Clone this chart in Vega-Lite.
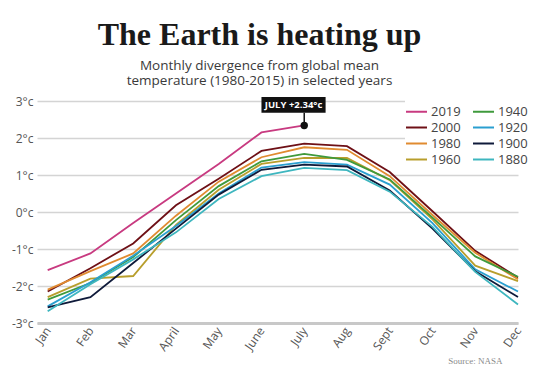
{
  "$schema": "https://vega.github.io/schema/vega-lite/v6.json",
  "width": 481,
  "height": 222,
  "autosize": "none",
  "padding": {"left": 37, "top": 101, "right": 23, "bottom": 60},
  "background": "white",
  "title": {
    "text": "The Earth is heating up",
    "subtitle": ["Monthly divergence from global mean", "temperature (1980-2015) in selected years"],
    "anchor": "middle",
    "dx": -18,
    "offset": 7,
    "font": "Liberation Serif",
    "fontSize": 32,
    "fontWeight": "bold",
    "color": "#1a1a1a",
    "subtitleFont": "Open Sans",
    "subtitleFontSize": 13.5,
    "subtitleColor": "#3a3a3a",
    "subtitleLineHeight": 15,
    "subtitlePadding": 7
  },
  "config": {
    "view": {"stroke": null},
    "font": "Open Sans"
  },
  "datasets": {
    "temps": [
      {"year": "2019", "m": 1, "v": -1.57}, {"year": "2019", "m": 2, "v": -1.12}, {"year": "2019", "m": 3, "v": -0.3}, {"year": "2019", "m": 4, "v": 0.5}, {"year": "2019", "m": 5, "v": 1.3}, {"year": "2019", "m": 6, "v": 2.15}, {"year": "2019", "m": 7, "v": 2.34},
      {"year": "2000", "m": 1, "v": -2.15}, {"year": "2000", "m": 2, "v": -1.52}, {"year": "2000", "m": 3, "v": -0.85}, {"year": "2000", "m": 4, "v": 0.18}, {"year": "2000", "m": 5, "v": 0.9}, {"year": "2000", "m": 6, "v": 1.65}, {"year": "2000", "m": 7, "v": 1.85}, {"year": "2000", "m": 8, "v": 1.78}, {"year": "2000", "m": 9, "v": 1.08}, {"year": "2000", "m": 10, "v": 0.02}, {"year": "2000", "m": 11, "v": -1.05}, {"year": "2000", "m": 12, "v": -1.77},
      {"year": "1980", "m": 1, "v": -2.1}, {"year": "1980", "m": 2, "v": -1.6}, {"year": "1980", "m": 3, "v": -1.12}, {"year": "1980", "m": 4, "v": -0.1}, {"year": "1980", "m": 5, "v": 0.82}, {"year": "1980", "m": 6, "v": 1.48}, {"year": "1980", "m": 7, "v": 1.75}, {"year": "1980", "m": 8, "v": 1.68}, {"year": "1980", "m": 9, "v": 0.97}, {"year": "1980", "m": 10, "v": -0.08}, {"year": "1980", "m": 11, "v": -1.1}, {"year": "1980", "m": 12, "v": -1.82},
      {"year": "1960", "m": 1, "v": -2.3}, {"year": "1960", "m": 2, "v": -1.8}, {"year": "1960", "m": 3, "v": -1.73}, {"year": "1960", "m": 4, "v": -0.35}, {"year": "1960", "m": 5, "v": 0.6}, {"year": "1960", "m": 6, "v": 1.3}, {"year": "1960", "m": 7, "v": 1.46}, {"year": "1960", "m": 8, "v": 1.46}, {"year": "1960", "m": 9, "v": 0.86}, {"year": "1960", "m": 10, "v": -0.2}, {"year": "1960", "m": 11, "v": -1.45}, {"year": "1960", "m": 12, "v": -1.87},
      {"year": "1940", "m": 1, "v": -2.37}, {"year": "1940", "m": 2, "v": -1.92}, {"year": "1940", "m": 3, "v": -1.22}, {"year": "1940", "m": 4, "v": -0.22}, {"year": "1940", "m": 5, "v": 0.7}, {"year": "1940", "m": 6, "v": 1.37}, {"year": "1940", "m": 7, "v": 1.57}, {"year": "1940", "m": 8, "v": 1.41}, {"year": "1940", "m": 9, "v": 0.88}, {"year": "1940", "m": 10, "v": -0.15}, {"year": "1940", "m": 11, "v": -1.2}, {"year": "1940", "m": 12, "v": -1.75},
      {"year": "1920", "m": 1, "v": -2.55}, {"year": "1920", "m": 2, "v": -1.9}, {"year": "1920", "m": 3, "v": -1.18}, {"year": "1920", "m": 4, "v": -0.38}, {"year": "1920", "m": 5, "v": 0.5}, {"year": "1920", "m": 6, "v": 1.2}, {"year": "1920", "m": 7, "v": 1.35}, {"year": "1920", "m": 8, "v": 1.28}, {"year": "1920", "m": 9, "v": 0.74}, {"year": "1920", "m": 10, "v": -0.3}, {"year": "1920", "m": 11, "v": -1.55}, {"year": "1920", "m": 12, "v": -2.15},
      {"year": "1900", "m": 1, "v": -2.58}, {"year": "1900", "m": 2, "v": -2.3}, {"year": "1900", "m": 3, "v": -1.38}, {"year": "1900", "m": 4, "v": -0.45}, {"year": "1900", "m": 5, "v": 0.47}, {"year": "1900", "m": 6, "v": 1.14}, {"year": "1900", "m": 7, "v": 1.28}, {"year": "1900", "m": 8, "v": 1.23}, {"year": "1900", "m": 9, "v": 0.58}, {"year": "1900", "m": 10, "v": -0.45}, {"year": "1900", "m": 11, "v": -1.6}, {"year": "1900", "m": 12, "v": -2.3},
      {"year": "1880", "m": 1, "v": -2.68}, {"year": "1880", "m": 2, "v": -1.95}, {"year": "1880", "m": 3, "v": -1.28}, {"year": "1880", "m": 4, "v": -0.55}, {"year": "1880", "m": 5, "v": 0.35}, {"year": "1880", "m": 6, "v": 0.97}, {"year": "1880", "m": 7, "v": 1.19}, {"year": "1880", "m": 8, "v": 1.13}, {"year": "1880", "m": 9, "v": 0.55}, {"year": "1880", "m": 10, "v": -0.4}, {"year": "1880", "m": 11, "v": -1.62}, {"year": "1880", "m": 12, "v": -2.5}
    ],
    "note": [
      {"x1": 6.0, "x2": 7.5, "xm": 6.75, "y1": 2.68, "y2": 3.11, "ym": 2.895, "px": 7, "py": 2.34, "label": "JULY +2.34°c"}
    ]
  },
  "layer": [
    {
      "data": {"name": "temps"},
      "mark": {"type": "line", "strokeWidth": 1.8, "interpolate": "linear"},
      "encoding": {
        "x": {
          "field": "m", "type": "quantitative",
          "scale": {"domain": [0.75, 12], "nice": false, "zero": false},
          "axis": {
            "values": [1, 2, 3, 4, 5, 6, 7, 8, 9, 10, 11, 12],
            "labelExpr": "['Jan','Feb','Mar','April','May','June','July','Aug','Sept','Oct','Nov','Dec'][datum.value - 1]",
            "grid": false,
            "ticks": false,
            "domain": true,
            "domainColor": "#c8c8c8",
            "domainWidth": 3,
            "labelAngle": -55,
            "labelAlign": "right",
            "labelBaseline": "middle",
            "labelPadding": 5,
            "labelFontSize": 12,
            "labelColor": "#555555",
            "labelFont": "Open Sans",
            "labelOverlap": false,
            "title": "Source: NASA",
            "titleFont": "Liberation Serif",
            "titleFontSize": 9,
            "titleFontWeight": "normal",
            "titleColor": "#8a8a8a",
            "titleAnchor": "end",
            "titleAlign": "right",
            "titleX": 465,
            "titlePadding": 4
          }
        },
        "y": {
          "field": "v", "type": "quantitative",
          "scale": {"domain": [-3, 3], "nice": false},
          "axis": {
            "tickCount": 7,
            "labelExpr": "replace(format(datum.value, 'd'), '\u2212', '-') + '°c'",
            "labelOverlap": false,
            "labelFlush": false,
            "grid": true,
            "gridColor": "#d4d4d4",
            "gridWidth": 1.5,
            "ticks": false,
            "domain": false,
            "labelPadding": 4,
            "labelFontSize": 12,
            "labelColor": "#555555",
            "labelFont": "Open Sans",
            "title": null
          }
        },
        "color": {
          "field": "year", "type": "nominal",
          "scale": {
            "domain": ["2019", "2000", "1980", "1960", "1940", "1920", "1900", "1880"],
            "range": ["#c83a80", "#6e1016", "#e08b30", "#b89e2c", "#3f9a3c", "#2a9fd0", "#0f1a3a", "#3eb6bf"]
          },
          "legend": {
            "orient": "none",
            "legendX": 368,
            "legendY": -1,
            "columns": 2,
            "title": null,
            "symbolType": "M-1.4,0L1.4,0",
            "symbolSize": 225,
            "symbolStrokeWidth": 2,
            "labelFontSize": 13,
            "labelFont": "Open Sans",
            "labelColor": "#444444",
            "labelOffset": 6,
            "columnPadding": 8,
            "rowPadding": 0,
            "fillColor": "white",
            "padding": 3
          }
        }
      }
    },
    {
      "data": {"name": "note"},
      "mark": {"type": "rect", "color": "#111111"},
      "encoding": {
        "x": {"field": "x1", "type": "quantitative"},
        "x2": {"field": "x2"},
        "y": {"field": "y1", "type": "quantitative"},
        "y2": {"field": "y2"}
      }
    },
    {
      "data": {"name": "note"},
      "mark": {"type": "rule", "color": "#111111", "strokeWidth": 1.5},
      "encoding": {
        "x": {"field": "px", "type": "quantitative"},
        "y": {"field": "py", "type": "quantitative"},
        "y2": {"field": "y1"}
      }
    },
    {
      "data": {"name": "note"},
      "mark": {"type": "point", "filled": true, "color": "#111111", "size": 55, "opacity": 1},
      "encoding": {
        "x": {"field": "px", "type": "quantitative"},
        "y": {"field": "py", "type": "quantitative"}
      }
    },
    {
      "data": {"name": "note"},
      "mark": {"type": "text", "color": "white", "font": "Open Sans", "fontWeight": "bold", "fontSize": 9.5, "align": "center", "baseline": "middle"},
      "encoding": {
        "x": {"field": "xm", "type": "quantitative"},
        "y": {"field": "ym", "type": "quantitative"},
        "text": {"field": "label"}
      }
    }
  ]
}
